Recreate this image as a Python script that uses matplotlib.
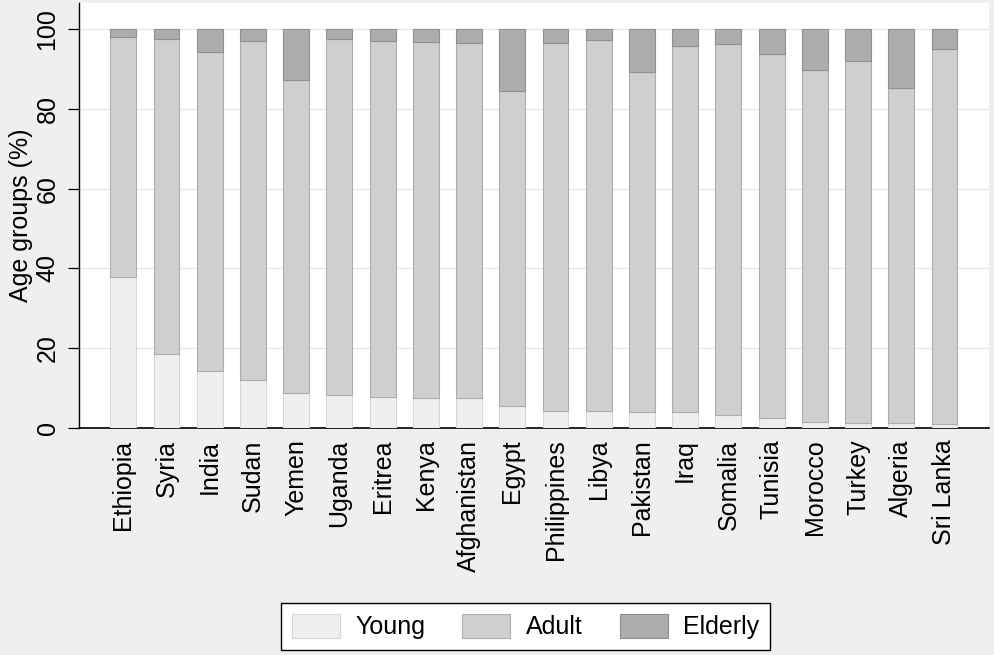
import matplotlib
matplotlib.use("Agg")
import matplotlib.pyplot as plt
import numpy as np

plt.rcParams['font.family'] = ['Liberation Sans', 'DejaVu Sans']

countries = ["Ethiopia", "Syria", "India", "Sudan", "Yemen", "Uganda", "Eritrea",
             "Kenya", "Afghanistan", "Egypt", "Philippines", "Libya", "Pakistan",
             "Iraq", "Somalia", "Tunisia", "Morocco", "Turkey", "Algeria", "Sri Lanka"]
young = [37.8, 18.4, 14.2, 12.1, 8.7, 8.3, 7.6, 7.4, 7.4, 5.4,
         4.3, 4.1, 4.0, 3.9, 3.2, 2.4, 1.4, 1.3, 1.1, 0.9]
adult = [60.2, 79.1, 80.0, 85.1, 78.5, 89.4, 89.4, 89.4, 89.2, 79.2,
         92.2, 93.2, 85.4, 92.0, 93.2, 91.3, 88.3, 90.7, 84.3, 94.1]
elderly = [2.0, 2.5, 5.8, 2.8, 12.8, 2.3, 3.0, 3.2, 3.4, 15.4,
           3.5, 2.7, 10.6, 4.1, 3.6, 6.3, 10.3, 8.0, 14.6, 5.0]
yticks = [0, 20, 40, 60, 80, 100]
series_names = ["Young", "Adult", "Elderly"]

bg = '#efefef'
fig = plt.figure(figsize=(9.95, 6.55), dpi=100, facecolor=bg)
ax = fig.add_axes([79/995, (655-427.7)/655, (989-79)/995, (427.7-2.5)/655])
ax.set_facecolor('white')

x = np.arange(len(countries))
y = np.array(young)
a = np.array(adult)
e = np.array(elderly)
w = 0.6
b1 = ax.bar(x, y, w, color='#efefef', edgecolor='#d6d6d6', linewidth=0.8, label=series_names[0], zorder=3)
b2 = ax.bar(x, a, w, bottom=y, color='#cfcfcf', edgecolor='#adadad', linewidth=0.8, label=series_names[1], zorder=3)
b3 = ax.bar(x, e, w, bottom=y + a, color='#adadad', edgecolor='#8f8f8f', linewidth=0.8, label=series_names[2], zorder=3)

ax.set_xlim(-1.025, 20.03)
ax.set_ylim(0, 106.75)
ax.set_yticks(yticks)
ax.set_yticklabels([str(t) for t in yticks], rotation=90, va='center')
ax.yaxis.grid(True, color='#e8e8e8', linewidth=1.0, zorder=0)
ax.set_axisbelow(True)
ax.set_xticks(x)
ax.set_xticklabels(countries, rotation=90, fontsize=18)
ax.tick_params(axis='x', length=0, pad=8.5)
ax.tick_params(axis='y', length=8, width=0.9, pad=6, labelsize=18)

for s in ['top', 'right']:
    ax.spines[s].set_visible(False)
ax.spines['left'].set_color('black')
ax.spines['bottom'].set_color('black')
ax.spines['left'].set_linewidth(1.0)
ax.spines['bottom'].set_linewidth(1.2)

ax.set_ylabel("Age groups (%)", fontsize=18)
ax.yaxis.set_label_coords((33-79)/910, 0.5)

leg = fig.legend(handles=[b1, b2, b3], labels=series_names, loc='center',
                 bbox_to_anchor=(525.5/995, 1 - 626.5/655), ncol=3, fontsize=18,
                 frameon=True, fancybox=False, edgecolor='black', framealpha=1,
                 handlelength=1.92, handleheight=1.08, handletextpad=0.62,
                 columnspacing=1.48, borderpad=0.45)
leg.get_frame().set_linewidth(1.0)
leg.get_frame().set_facecolor('white')

fig.savefig("out.png", dpi=100, facecolor=bg)
